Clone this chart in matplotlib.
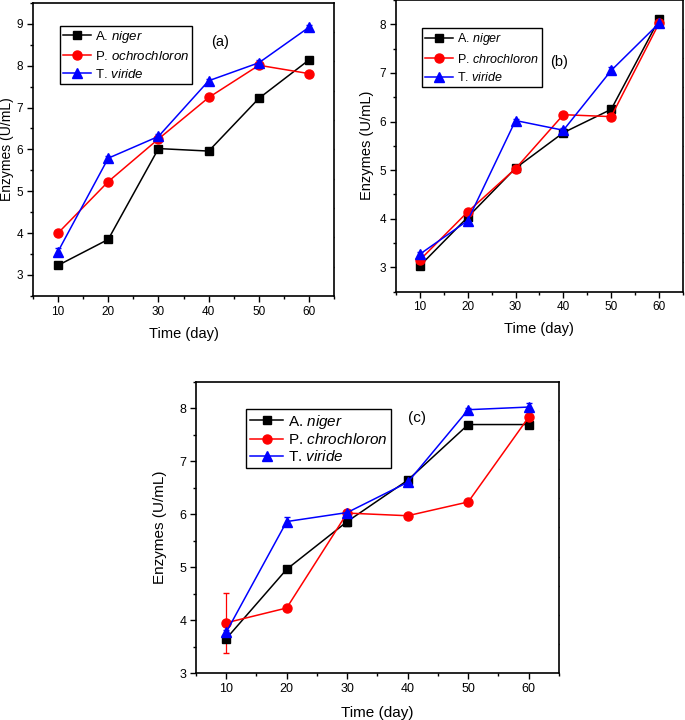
import matplotlib
matplotlib.use("Agg")
import matplotlib.pyplot as plt
from matplotlib.ticker import MultipleLocator

plt.rcParams['font.family'] = ['Liberation Sans', 'DejaVu Sans']
plt.rcParams['mathtext.fontset'] = 'custom'
plt.rcParams['mathtext.rm'] = 'Liberation Sans'
plt.rcParams['mathtext.it'] = 'Liberation Sans:italic'

days = [10, 20, 30, 40, 50, 60]

# Panel (a)
a_niger = [3.23, 3.85, 6.02, 5.96, 7.22, 8.14]
a_pen = [4.00, 5.23, 6.25, 7.24, 8.01, 7.81]
a_tri = [3.56, 5.79, 6.31, 7.64, 8.07, 8.92]
a_niger_err = [0.04, 0.04, 0.04, 0.04, 0.04, 0.04]
a_pen_err = [0.03, 0.03, 0.04, 0.04, 0.04, 0.03]
a_tri_err = [0.08, 0.05, 0.05, 0.05, 0.06, 0.05]

# Panel (b)
b_niger = [3.03, 4.03, 5.04, 5.77, 6.25, 8.10]
b_pen = [3.15, 4.14, 5.03, 6.14, 6.10, 8.02]
b_tri = [3.27, 3.96, 6.02, 5.82, 7.05, 8.02]
b_niger_err = [0.07, 0.04, 0.03, 0.04, 0.06, 0.04]
b_pen_err = [0.05, 0.04, 0.04, 0.04, 0.04, 0.04]
b_tri_err = [0.05, 0.04, 0.04, 0.05, 0.08, 0.04]

# Panel (c)
c_niger = [3.65, 4.96, 5.86, 6.64, 7.69, 7.69]
c_pen = [3.95, 4.23, 6.02, 5.97, 6.23, 7.83]
c_tri = [3.77, 5.86, 6.03, 6.60, 7.97, 8.02]
c_niger_err = [0.04, 0.03, 0.08, 0.07, 0.03, 0.03]
c_pen_err = [0.57, 0.03, 0.03, 0.03, 0.03, 0.05]
c_tri_err = [0.05, 0.08, 0.04, 0.05, 0.03, 0.07]

labels_a = ['A. $\\mathit{niger}$', 'P. $\\mathit{ochrochloron}$', 'T. $\\mathit{viride}$']
labels_bc = ['A. $\\mathit{niger}$', 'P. $\\mathit{chrochloron}$', 'T. $\\mathit{viride}$']

fig = plt.figure(figsize=(6.85, 7.2), dpi=100)

styles = [('black', 's', 6), ('red', 'o', 6.5), ('blue', '^', 6.5)]


def panel(rect, series, errs, labels, ylim, yticks, tag, tagpos, legbox,
          fs_tick, fs_lab, fs_ylab, fs_leg, fs_tag, xpad, ylab_x, hlen, lspace):
    ax = fig.add_axes(rect)
    handles = []
    for (col, mk, ms), ys, es in zip(styles, series, errs):
        h = ax.errorbar(days, ys, yerr=es, color=col, marker=mk, markersize=ms,
                        linewidth=1.1, capsize=2, elinewidth=0.9)
        handles.append(h[0])
    ax.set_xlim(5, 65)
    ax.set_ylim(*ylim)
    ax.set_xticks(days)
    ax.set_yticks(yticks)
    ax.xaxis.set_minor_locator(MultipleLocator(5))
    ax.yaxis.set_minor_locator(MultipleLocator(0.5))
    ax.tick_params(which='major', direction='out', length=4, width=1, labelsize=fs_tick, pad=3)
    ax.tick_params(which='minor', direction='out', length=2.5, width=1)
    for s in ax.spines.values():
        s.set_linewidth(1.2)
    ax.set_xlabel('Time (day)', fontsize=fs_lab, labelpad=xpad)
    ax.set_ylabel('Enzymes (U/mL)', fontsize=fs_ylab)
    ax.yaxis.set_label_coords(ylab_x, 0.5)
    leg = ax.legend(handles=handles, labels=labels, loc='upper left', bbox_to_anchor=legbox,
                    fontsize=fs_leg, frameon=True, fancybox=False, framealpha=1,
                    edgecolor='black', handlelength=hlen, handletextpad=0.3, borderpad=0.25,
                    labelspacing=lspace, borderaxespad=0)
    leg.get_frame().set_linewidth(1.0)
    ax.text(tagpos[0], tagpos[1], tag, transform=ax.transAxes, fontsize=fs_tag,
            ha='center', va='center')
    # mirror axes (top/right) with independent ticks, Origin-style
    ax2 = fig.add_axes(rect, frameon=False, zorder=-1)
    ax2.set_xlim(0, 1)
    ax2.set_ylim(0, 1)
    ax2.set_xticks([i / 10 for i in range(1, 10)])
    ax2.set_yticks([i / 10 for i in range(1, 10)])
    ax2.tick_params(direction='in', length=4, width=1, top=True, right=True,
                    bottom=False, left=False, labelbottom=False, labelleft=False)
    return ax


panel([0.048, 0.589, 0.440, 0.407], [a_niger, a_pen, a_tri], [a_niger_err, a_pen_err, a_tri_err],
      labels_a, (2.5, 9.5), [3, 4, 5, 6, 7, 8, 9], '(a)', (0.62, 0.867), (0.09, 0.922),
      8.5, 10.5, 10, 9.5, 10.5, 7, -0.062, 2.1, 0.36)
panel([0.578, 0.595, 0.419, 0.405], [b_niger, b_pen, b_tri], [b_niger_err, b_pen_err, b_tri_err],
      labels_bc, (2.5, 8.5), [3, 4, 5, 6, 7, 8], '(b)', (0.57, 0.787), (0.09, 0.904),
      8.5, 10.5, 10.5, 9, 10.5, 6, -0.075, 2.25, 0.44)
panel([0.286, 0.065, 0.530, 0.405], [c_niger, c_pen, c_tri], [c_niger_err, c_pen_err, c_tri_err],
      labels_bc, (3, 8.5), [3, 4, 5, 6, 7, 8], '(c)', (0.61, 0.875), (0.138, 0.907),
      9, 11, 11, 11, 11, 8, -0.08, 2.2, 0.12)

fig.savefig('out.png', dpi=100)
